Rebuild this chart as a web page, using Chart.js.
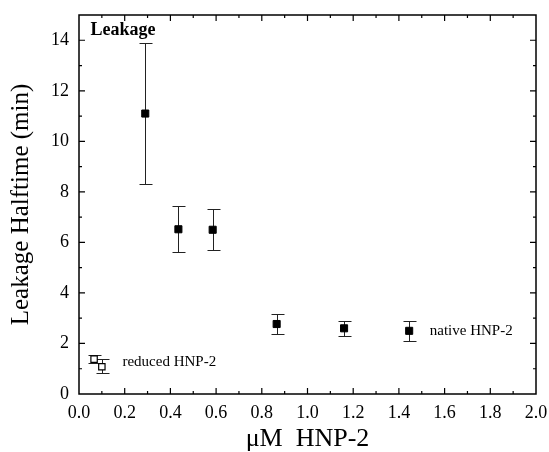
<!DOCTYPE html>
<html>
<head>
    <meta charset="UTF-8">
    <title>Leakage halftime</title>
    <script src="https://cdn.jsdelivr.net/npm/chart.js@4/dist/chart.umd.min.js"></script>
    <style>
        body { margin: 0; background: #fff; }
        #wrap { width: 549px; height: 452px; }
    </style>
</head>
<body>
    <div id="wrap"><canvas id="chart" width="549" height="452"></canvas></div>
<script>
    // native HNP-2
    var nativeX = [0.29, 0.435, 0.585, 0.865, 1.16, 1.445];
    var nativeY = [11.1, 6.52, 6.5, 2.77, 2.6, 2.5];
    var nativeHi = [13.9, 7.43, 7.31, 3.16, 2.89, 2.89];
    var nativeLo = [8.3, 5.63, 5.7, 2.37, 2.29, 2.09];

    // reduced HNP-2
    var reducedX = [0.066, 0.1];
    var reducedY = [1.38, 1.08];
    var reducedHi = [1.53, 1.38];
    var reducedLo = [1.23, 0.83];

    var xTicks = [0, 0.2, 0.4, 0.6, 0.8, 1.0, 1.2, 1.4, 1.6, 1.8, 2.0];
    var yTicks = [0, 2, 4, 6, 8, 10, 12, 14];

    var labels = [
        { text: 'Leakage', x: 0.05, y: 14.4, bold: true, size: 18 },
        { text: 'reduced HNP-2', x: 0.19, y: 1.27, bold: false, size: 15 },
        { text: 'native HNP-2', x: 1.535, y: 2.5, bold: false, size: 15 }
    ];

    var serif = '"Liberation Serif", "DejaVu Serif", serif';

    function pts(xs, ys, hi, lo) {
        var out = [];
        for (var i = 0; i < xs.length; i++) {
            out.push({ x: xs[i], y: ys[i], hi: hi[i], lo: lo[i] });
        }
        return out;
    }

    var errorBars = {
        id: 'errorBars',
        beforeDatasetsDraw: function (chart) {
            var ctx = chart.ctx, xs = chart.scales.x, ys = chart.scales.y;
            ctx.save();
            ctx.strokeStyle = '#222';
            ctx.lineWidth = 1;
            chart.data.datasets.forEach(function (ds) {
                ds.data.forEach(function (p) {
                    var px = Math.round(xs.getPixelForValue(p.x)) + 0.5;
                    var top = Math.round(ys.getPixelForValue(p.hi)) + 0.5;
                    var bot = Math.round(ys.getPixelForValue(p.lo)) + 0.5;
                    ctx.beginPath();
                    ctx.moveTo(px, top); ctx.lineTo(px, bot);
                    ctx.moveTo(px - 6, top); ctx.lineTo(px + 7, top);
                    ctx.moveTo(px - 6, bot); ctx.lineTo(px + 7, bot);
                    ctx.stroke();
                });
            });
            ctx.restore();
        }
    };

    var frame = {
        id: 'frame',
        afterDraw: function (chart) {
            var ctx = chart.ctx, a = chart.chartArea, xs = chart.scales.x, ys = chart.scales.y;
            ctx.save();
            ctx.strokeStyle = '#000';
            ctx.lineWidth = 1.5;
            ctx.strokeRect(a.left, a.top, a.right - a.left, a.bottom - a.top);
            ctx.lineWidth = 1.2;
            ctx.beginPath();
            // inward ticks, minor every 0.1 / 1
            for (var i = 1; i < 20; i++) {
                var px = xs.getPixelForValue(i / 10);
                var len = (i % 2 === 0) ? 6 : 3;
                ctx.moveTo(px, a.bottom); ctx.lineTo(px, a.bottom - len);
                ctx.moveTo(px, a.top); ctx.lineTo(px, a.top + len);
            }
            for (var j = 1; j < 15; j++) {
                var py = ys.getPixelForValue(j);
                var l2 = (j % 2 === 0) ? 6 : 3;
                ctx.moveTo(a.left, py); ctx.lineTo(a.left + l2, py);
                ctx.moveTo(a.right, py); ctx.lineTo(a.right - l2, py);
            }
            ctx.stroke();
            ctx.fillStyle = '#000';
            ctx.textBaseline = 'middle';
            ctx.textAlign = 'left';
            labels.forEach(function (l) {
                ctx.font = (l.bold ? 'bold ' : '') + l.size + 'px ' + serif;
                ctx.fillText(l.text, xs.getPixelForValue(l.x), ys.getPixelForValue(l.y));
            });
            ctx.restore();
        }
    };

    new Chart(document.getElementById('chart'), {
        type: 'scatter',
        data: {
            datasets: [{
                label: 'native HNP-2',
                data: pts(nativeX, nativeY, nativeHi, nativeLo),
                pointStyle: 'rect',
                pointRadius: 5,
                backgroundColor: '#000',
                borderColor: '#000',
                borderWidth: 1
            }, {
                label: 'reduced HNP-2',
                data: pts(reducedX, reducedY, reducedHi, reducedLo),
                pointStyle: 'rect',
                pointRadius: 4.5,
                backgroundColor: '#fff',
                borderColor: '#000',
                borderWidth: 1.2
            }]
        },
        options: {
            responsive: false,
            animation: false,
            layout: { padding: { top: 15, right: 13, left: 0, bottom: 0 } },
            plugins: {
                legend: { display: false },
                tooltip: { enabled: false }
            },
            scales: {
                x: {
                    type: 'linear',
                    min: 0,
                    max: 2,
                    afterBuildTicks: function (s) { s.ticks = xTicks.map(function (v) { return { value: v }; }); },
                    afterFit: function (s) { s.height = 58; s.paddingLeft = 0; s.paddingRight = 0; },
                    grid: { display: false, drawTicks: false },
                    border: { display: false },
                    ticks: {
                        padding: 8,
                        color: '#000',
                        font: { family: serif, size: 18 },
                        callback: function (v) { return v.toFixed(1); }
                    },
                    title: {
                        display: true,
                        text: 'μM  HNP-2',
                        color: '#000',
                        font: { family: serif, size: 26, lineHeight: 1 },
                        padding: { top: 0, bottom: 0 }
                    }
                },
                y: {
                    min: 0,
                    max: 15,
                    afterBuildTicks: function (s) { s.ticks = yTicks.map(function (v) { return { value: v }; }); },
                    afterFit: function (s) { s.width = 79; s.paddingTop = 0; s.paddingBottom = 0; },
                    grid: { display: false, drawTicks: false },
                    border: { display: false },
                    ticks: {
                        padding: 10,
                        color: '#000',
                        font: { family: serif, size: 18 }
                    },
                    title: {
                        display: true,
                        text: 'Leakage Halftime (min)',
                        color: '#000',
                        font: { family: serif, size: 25 },
                        padding: { top: 6, bottom: 0 }
                    }
                }
            }
        },
        plugins: [errorBars, frame]
    });
</script>
</body>
</html>
